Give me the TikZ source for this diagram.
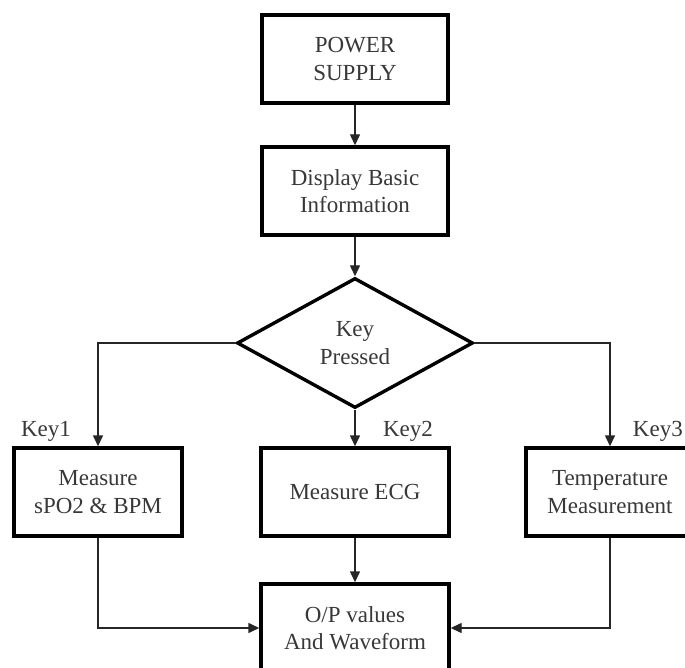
\documentclass[tikz,border=0pt]{standalone}
\usepackage{fontspec}
\setmainfont{Liberation Serif}
\usetikzlibrary{shapes.geometric,arrows.meta}
\begin{document}
\begin{tikzpicture}[x=1pt,y=-1pt,
  txt/.style={text=black!78, font=\fontsize{23}{27.5}\selectfont, align=center},
  blk/.style={txt, draw=black, line width=3.4pt, rectangle, minimum height=88pt, inner sep=0pt},
  dec/.style={txt, draw=black, line width=3.4pt, diamond, minimum width=236pt, minimum height=130pt, inner sep=0pt},
  conn/.style={draw=black!85, line width=1.4pt, -{Triangle[length=11pt,width=10pt]}},
  lbl/.style={txt, inner sep=0pt}
]
\useasboundingbox (0,0) rectangle (685,668);
\clip (0,0) rectangle (685,668);
\fill[white] (0,0) rectangle (685,668);

\node[blk, minimum width=186pt] (ps) at (355,59) {POWER\\SUPPLY};
\node[blk, minimum width=186pt] (disp) at (355,191) {Display Basic\\Information};
\node[dec] (key) at (355,343) {Key\\Pressed};
\node[blk, minimum width=168pt] (spo2) at (98,492) {Measure\\sPO2 \& BPM};
\node[blk, minimum width=188pt] (ecg) at (355,492) {Measure ECG};
\node[blk, minimum width=168pt] (temp) at (610,492) {Temperature\\Measurement};
\node[blk, minimum width=188pt] (op) at (355,628) {O/P values\\And Waveform};

\node[lbl] (k1) at (46,431) {Key1};
\node[lbl] (k2) at (408,431) {Key2};
\node[lbl, anchor=east] (k3) at (683,431) {Key3};

\draw[conn] (ps.south) -- (disp.north);
\draw[conn] (disp.south) -- (key.north);
\draw[conn] (key.west) -| (spo2.north);
\draw[conn] (key.east) -| (temp.north);
\draw[conn] (key.south) -- (ecg.north);
\draw[conn] (ecg.south) -- (op.north);
\draw[conn] (spo2.south) |- (op.west);
\draw[conn] (temp.south) |- (op.east);
\end{tikzpicture}
\end{document}
